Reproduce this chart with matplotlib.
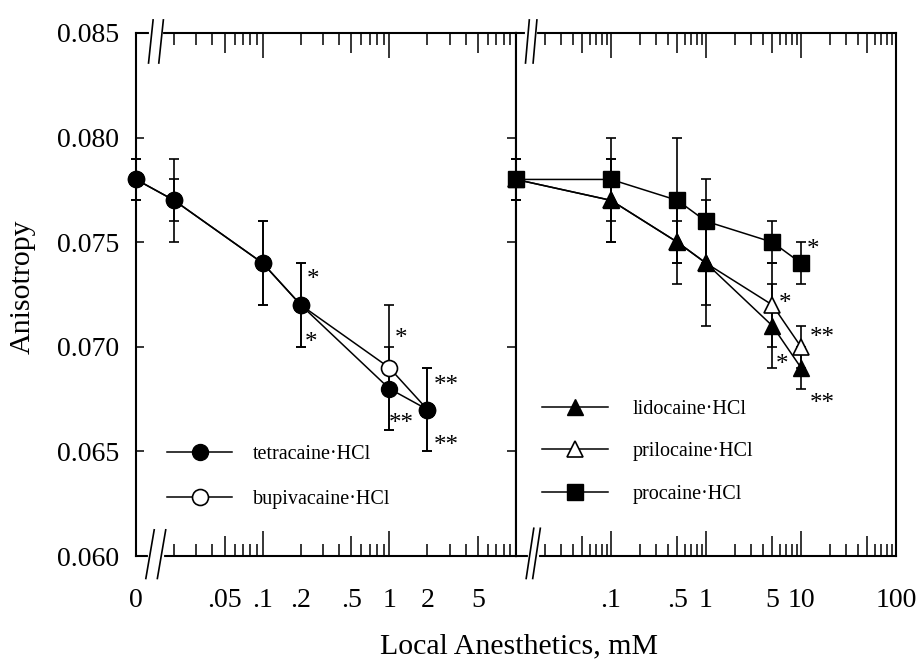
import matplotlib
matplotlib.use('Agg')
import matplotlib.pyplot as plt
from matplotlib.ticker import FixedLocator, FixedFormatter, NullFormatter, FormatStrFormatter

plt.rcParams['font.family'] = ['Liberation Serif', 'DejaVu Serif']

# ---------------- data ----------------
# 0.01 on each panel stands for the "0" concentration placed at the axis break
left_conc = [0.01, 0.02, 0.1, 0.2, 1, 2]
tetracaine = [0.078, 0.077, 0.074, 0.072, 0.068, 0.067]
tetracaine_err = [0.001, 0.002, 0.002, 0.002, 0.002, 0.002]
bupivacaine = [0.078, 0.077, 0.074, 0.072, 0.069, 0.067]
bupivacaine_err = [0.001, 0.001, 0.002, 0.002, 0.003, 0.002]

right_conc = [0.01, 0.1, 0.5, 1, 5, 10]
lidocaine = [0.078, 0.077, 0.075, 0.074, 0.071, 0.069]
lidocaine_err = [0.001, 0.002, 0.002, 0.003, 0.002, 0.001]
prilocaine = [0.078, 0.077, 0.075, 0.074, 0.072, 0.070]
prilocaine_err = [0.001, 0.002, 0.001, 0.002, 0.002, 0.001]
procaine = [0.078, 0.078, 0.077, 0.076, 0.075, 0.074]
procaine_err = [0.001, 0.002, 0.003, 0.002, 0.001, 0.001]

left_major = [0.01, 0.05, 0.1, 0.2, 0.5, 1, 2, 5, 10]
left_labels = ['0', '.05', '.1', '.2', '.5', '1', '2', '5', '']
left_minor = [0.02, 0.03, 0.04, 0.06, 0.07, 0.08, 0.09, 0.3, 0.4, 0.6, 0.7, 0.8, 0.9,
              3, 4, 6, 7, 8, 9]
right_major = [0.01, 0.05, 0.1, 0.5, 1, 5, 10, 50, 100]
right_labels = ['', '', '.1', '.5', '1', '5', '10', '', '100']
right_minor = [0.02, 0.03, 0.04, 0.06, 0.07, 0.08, 0.09, 0.2, 0.3, 0.4, 0.6, 0.7, 0.8, 0.9,
               2, 3, 4, 6, 7, 8, 9, 20, 30, 40, 60, 70, 80, 90]
y_ticks = [0.060, 0.065, 0.070, 0.075, 0.080, 0.085]

stars_left_x = [0.252, 0.243, 1.243, 2.81, 1.243, 2.81]
stars_left_y = [0.07348, 0.07047, 0.07066, 0.06846, 0.06664, 0.06555]
stars_left_txt = ['*', '*', '*', '**', '**', '**']
stars_right_x = [13.4, 6.79, 16.6, 6.31, 16.6]
stars_right_y = [0.07496, 0.07238, 0.07071, 0.06942, 0.06760]
stars_right_txt = ['*', '*', '**', '*', '**']

# ---------------- figure ----------------
W, H = 916, 662
fig = plt.figure(figsize=(W / 100, H / 100), dpi=100)
ax1 = fig.add_axes([136 / W, 106 / H, 380 / W, 523 / H])
ax2 = fig.add_axes([516 / W, 106 / H, 380 / W, 523 / H])

LW = 1.1
EB = dict(fmt='none', ecolor='black', elinewidth=1.2, capsize=3.5, capthick=1.2)


def ebar(ax, x, y, e):
    c = ax.errorbar(x, y, yerr=e, zorder=2, **EB)
    for art in c.get_children():
        art.set_clip_on(False)


# left panel
ebar(ax1, left_conc, bupivacaine, bupivacaine_err)
ebar(ax1, left_conc, tetracaine, tetracaine_err)
h_bup, = ax1.plot(left_conc, bupivacaine, '-', color='black', lw=LW, marker='o', ms=11.5,
                  mfc='white', mec='black', mew=1.2, label='bupivacaine\u00b7HCl', zorder=3,
                  clip_on=False)
h_tet, = ax1.plot(left_conc, tetracaine, '-', color='black', lw=LW, marker='o', ms=11.5,
                  mfc='black', mec='black', label='tetracaine\u00b7HCl', zorder=4,
                  clip_on=False)

# right panel
ebar(ax2, right_conc, prilocaine, prilocaine_err)
ebar(ax2, right_conc, lidocaine, lidocaine_err)
ebar(ax2, right_conc, procaine, procaine_err)
h_pri, = ax2.plot(right_conc, prilocaine, '-', color='black', lw=LW, marker='^', ms=12,
                  mfc='white', mec='black', mew=1.2, label='prilocaine\u00b7HCl', zorder=3,
                  clip_on=False)
h_lid, = ax2.plot(right_conc, lidocaine, '-', color='black', lw=LW, marker='^', ms=12,
                  mfc='black', mec='black', label='lidocaine\u00b7HCl', zorder=4,
                  clip_on=False)
h_pro, = ax2.plot(right_conc, procaine, '-', color='black', lw=LW, marker='s', ms=11,
                  mfc='black', mec='black', label='procaine\u00b7HCl', zorder=5,
                  clip_on=False)

STAR_FS = 18
for x, y, t in zip(stars_left_x, stars_left_y, stars_left_txt):
    ax1.annotate(t, (x, y), xytext=(0, -9), textcoords='offset points',
                 ha='center', va='baseline', fontsize=STAR_FS)
for x, y, t in zip(stars_right_x, stars_right_y, stars_right_txt):
    ax2.annotate(t, (x, y), xytext=(0, -9), textcoords='offset points',
                 ha='center', va='baseline', fontsize=STAR_FS)

LEG_FS = 14.5
ax1.legend(handles=[h_tet, h_bup], loc='upper left', bbox_to_anchor=(0.0816, 0.213),
           frameon=False, fontsize=LEG_FS, handlelength=3.23, handletextpad=1.05,
           labelspacing=1.29, borderpad=0, borderaxespad=0, numpoints=1)
ax2.legend(handles=[h_lid, h_pri, h_pro], loc='upper left', bbox_to_anchor=(0.0684, 0.299),
           frameon=False, fontsize=LEG_FS, handlelength=3.28, handletextpad=1.2,
           labelspacing=1.17, borderpad=0, borderaxespad=0, numpoints=1)

TICK_FS = 20


def setup_x(ax, lim, major, labels, minor):
    ax.set_xscale('log')
    ax.set_xlim(*lim)
    ax.xaxis.set_major_locator(FixedLocator(major))
    ax.xaxis.set_major_formatter(FixedFormatter(labels))
    ax.xaxis.set_minor_locator(FixedLocator(minor))
    ax.xaxis.set_minor_formatter(NullFormatter())
    ax.tick_params(axis='x', which='both', direction='in', top=True, bottom=True,
                   width=1.1, labelsize=TICK_FS, pad=23)
    ax.tick_params(axis='x', which='minor', length=8.6)
    for t, loc in zip(ax.xaxis.get_major_ticks(), major):
        s = f'{loc:g}'.lstrip('0.')
        if s.startswith('1'):
            L = 18
        elif s.startswith('5'):
            L = 14.4
        else:
            L = 8.6
        t.tick1line.set_markersize(L)
        t.tick2line.set_markersize(L)


setup_x(ax1, (0.01, 10), left_major, left_labels, left_minor)
setup_x(ax2, (0.01, 100), right_major, right_labels, right_minor)

for ax in (ax1, ax2):
    ax.set_ylim(0.060, 0.085)
    ax.set_yticks(y_ticks)
    for sp in ax.spines.values():
        sp.set_linewidth(1.5)
ax1.yaxis.set_major_formatter(FormatStrFormatter('%.3f'))
ax1.tick_params(axis='y', direction='in', length=6, width=1.1, labelsize=TICK_FS, pad=12,
                right=False)
ax2.tick_params(axis='y', direction='out', length=6.5, width=1.1, labelleft=False, right=False)


def breaks(ax, xs, ylo, yhi, lean):
    # white gap in spine then slashes
    y0 = 0 if ylo < 0 else 1
    ax.plot([xs[0], xs[1]], [y0, y0], color='white', lw=3, transform=ax.transAxes,
            clip_on=False, zorder=10)
    for xc in xs:
        ax.plot([xc + lean, xc - lean], [yhi, ylo], color='black', lw=1.2,
                transform=ax.transAxes, clip_on=False, zorder=11)


breaks(ax1, (0.0369, 0.0672), -0.043, 0.050, 0.011)
breaks(ax1, (0.0390, 0.0660), 0.9426, 1.025, 0.006)
breaks(ax2, (0.0368, 0.0540), -0.043, 0.053, 0.010)
breaks(ax2, (0.0300, 0.0500), 0.9426, 1.025, 0.005)

fig.text(23 / W, 1 - 287 / H, 'Anisotropy', rotation=90, ha='center', va='center', fontsize=21.5)
fig.text(519 / W, 9 / H, 'Local Anesthetics, mM', ha='center', va='baseline', fontsize=21.5)

fig.savefig('out.png', dpi=100)
